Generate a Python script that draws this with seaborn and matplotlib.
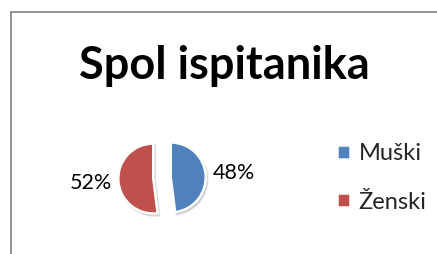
import matplotlib
matplotlib.use("Agg")
from matplotlib import pyplot as plt
from matplotlib.lines import Line2D
import seaborn as sns

labels = ["Muški", "Ženski"]
shares = [48, 52]
colors = ["#4F81BD", "#C0504D"]

sns.set_theme(style="white")
plt.rcParams['font.family'] = ['Lato', 'DejaVu Sans']

W, H = 437, 254
fig = plt.figure(figsize=(W / 100, H / 100), dpi=100)

# chart frame (top and left edges visible)
fig.add_artist(Line2D([10.5 / W, 10.5 / W], [0, 1 - 11.5 / H], color="#8a8a8a", lw=1.3))
fig.add_artist(Line2D([10.5 / W, 1], [1 - 11.5 / H, 1 - 11.5 / H], color="#8a8a8a", lw=1.3))

fig.text(224 / W, 1 - 66 / H, "Spol ispitanika", ha="center", va="center",
         fontsize=32.5, fontweight="bold", color="black")

ax = fig.add_axes([0.2586, 0.1063, 0.2243, 0.3858])
wedges, _, autotexts = ax.pie(
    shares, colors=colors, startangle=90, counterclock=False,
    explode=[0.25, 0.25], autopct="%1.0f%%", pctdistance=1.8,
    shadow=dict(ox=0.03, oy=-0.04, alpha=0.15),
    wedgeprops=dict(edgecolor="white", linewidth=1.8),
    textprops=dict(fontsize=15.5, color="black"),
)
ax.set_xlim(-1.4, 1.4)
ax.set_ylim(-1.4, 1.4)
ax.set_aspect("equal")
ax.axis("off")

fig.legend(wedges, labels, loc="center left", bbox_to_anchor=(316 / W, 1 - 178 / H),
           frameon=False, fontsize=17, handlelength=0.55, handleheight=0.55,
           handletextpad=0.35, labelspacing=1.15)

plt.savefig("out.png", dpi=100)
